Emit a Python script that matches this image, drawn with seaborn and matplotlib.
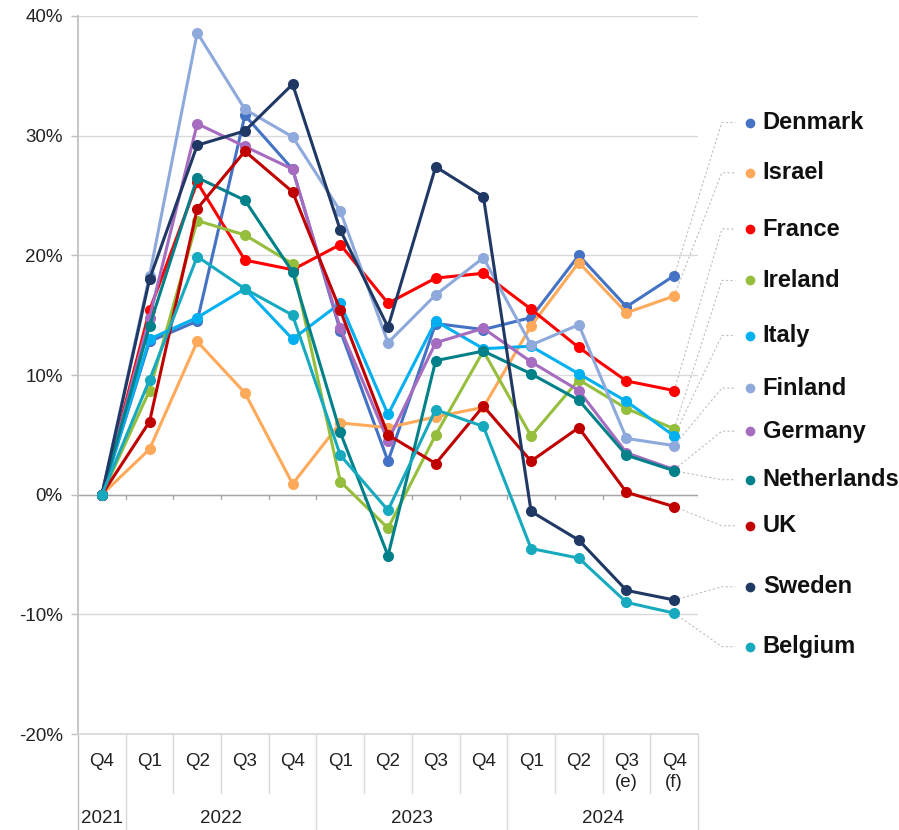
import matplotlib
matplotlib.use("Agg")
import numpy as np
import matplotlib.pyplot as plt
import pandas as pd
import seaborn as sns

# quarter labels and year groups
quarters = ["Q4", "Q1", "Q2", "Q3", "Q4", "Q1", "Q2", "Q3", "Q4", "Q1", "Q2", "Q3\n(e)", "Q4\n(f)"]
years = ["2021", "2022", "2023", "2024"]
year_spans = [(0, 0), (1, 4), (5, 8), (9, 12)]

# cumulative change, %
denmark = [0, 12.8, 14.5, 31.7, 27.2, 13.7, 2.8, 14.3, 13.8, 14.8, 20.0, 15.7, 18.3]
israel = [0, 3.8, 12.8, 8.5, 0.9, 6.0, 5.6, 6.5, 7.3, 14.1, 19.4, 15.2, 16.6]
france = [0, 15.4, 26.1, 19.6, 18.8, 20.9, 16.0, 18.1, 18.5, 15.5, 12.3, 9.5, 8.7]
ireland = [0, 8.7, 22.9, 21.7, 19.3, 1.1, -2.8, 5.0, 12.0, 4.9, 9.6, 7.2, 5.5]
italy = [0, 13.0, 14.8, 17.2, 13.0, 16.0, 6.7, 14.5, 12.2, 12.4, 10.1, 7.8, 4.9]
finland = [0, 18.3, 38.6, 32.2, 29.9, 23.7, 12.7, 16.7, 19.8, 12.5, 14.2, 4.7, 4.1]
germany = [0, 14.8, 31.0, 29.1, 27.2, 13.9, 4.5, 12.7, 13.9, 11.1, 8.7, 3.5, 2.1]
netherlands = [0, 14.1, 26.5, 24.6, 18.6, 5.2, -5.1, 11.2, 12.0, 10.1, 7.9, 3.3, 2.0]
uk = [0, 6.1, 23.9, 28.7, 25.3, 15.4, 5.0, 2.6, 7.4, 2.8, 5.6, 0.2, -1.0]
sweden = [0, 18.0, 29.2, 30.4, 34.3, 22.1, 14.0, 27.4, 24.9, -1.4, -3.8, -8.0, -8.8]
belgium = [0, 9.6, 19.9, 17.2, 15.0, 3.3, -1.3, 7.1, 5.7, -4.5, -5.3, -9.0, -9.9]

countries = ["Denmark", "Israel", "France", "Ireland", "Italy", "Finland",
             "Germany", "Netherlands", "UK", "Sweden", "Belgium"]
series = [denmark, israel, france, ireland, italy, finland,
          germany, netherlands, uk, sweden, belgium]
colors = ["#4472C4", "#FFA95A", "#FF0000", "#95BE3C", "#00B0F0", "#8EA9DB",
          "#A66CC0", "#00818A", "#C00000", "#203864", "#17AABF"]

# label positions on the right (in % units, layout only)
label_y = [31.1, 26.9, 22.2, 17.9, 13.3, 8.9, 5.3, 1.25, -2.6, -7.7, -12.7]

rows = []
for name, vals in zip(countries, series):
    for i, v in enumerate(vals):
        rows.append({"idx": i, "value": v, "country": name})
df = pd.DataFrame(rows)

sns.set_theme(style="white")
plt.rcParams["font.family"] = ["Liberation Sans", "DejaVu Sans"]

fig = plt.figure(figsize=(8.99, 8.3), dpi=100)
ax = fig.add_axes([78 / 899, 96 / 830, 620 / 899, 718 / 830])

# grid
for g in range(-20, 41, 10):
    ax.axhline(g, color="#D9D9D9", lw=1, zorder=0)
ax.axhline(0, color="#A6A6A6", lw=1, zorder=1)
for k in range(13):
    ax.plot([k + 0.5, k + 0.5], [0, -0.4], color="#A6A6A6", lw=1, zorder=1)

sns.lineplot(data=df, x="idx", y="value", hue="country", hue_order=countries,
             palette=dict(zip(countries, colors)), marker="o", markersize=8,
             markeredgewidth=0, linewidth=2.2, legend=False, sort=False, ax=ax, zorder=3)

ax.set_xlim(-0.5, 12.5)
ax.set_ylim(-20, 40)
ax.set_yticks(range(-20, 41, 10))
ax.set_yticklabels([f"{t}%" for t in range(-20, 41, 10)], fontsize=13.5, color="#222222")
ax.set_xticks(range(13))
ax.set_xticklabels(quarters, fontsize=13.5, color="#222222", va="top", linespacing=1.25)
ax.tick_params(axis="y", length=5, color="#BFBFBF", width=1, pad=6, left=True)
ax.tick_params(axis="x", length=0, pad=14)
ax.set_xlabel("")
ax.set_ylabel("")

for s in ["top", "right"]:
    ax.spines[s].set_visible(False)
ax.spines["left"].set_color("#BFBFBF")
ax.spines["bottom"].set_color("#D9D9D9")

# category separators below the axis
trans = ax.get_xaxis_transform()
ends = [sp[1] for sp in year_spans]
for k in range(13):
    bottom = -0.134 if k in ends else -0.082
    ax.plot([k + 0.5, k + 0.5], [0, bottom], color="#D9D9D9", lw=1,
            transform=trans, clip_on=False)
ax.plot([-0.5, -0.5], [0, -0.134], color="#BFBFBF", lw=1, transform=trans, clip_on=False)

for yr, (a, b) in zip(years, year_spans):
    ax.text((a + b) / 2, -0.117, yr, transform=trans, ha="center", va="center",
            fontsize=13.5, color="#222222")

# leader lines and labels
for name, vals, col, ly in zip(countries, series, colors, label_y):
    ax.plot([12, 13.0, 13.28], [vals[-1], ly, ly], color="#BFBFBF", lw=0.8,
            ls=(0, (2, 2)), clip_on=False, zorder=2)
    ax.plot([13.59], [ly], "o", color=col, markersize=7, markeredgewidth=0, clip_on=False)
    ax.text(13.86, ly, name, fontsize=17, fontweight="bold", color="#111111",
            va="center", ha="left")

fig.savefig("out.png", dpi=100)
